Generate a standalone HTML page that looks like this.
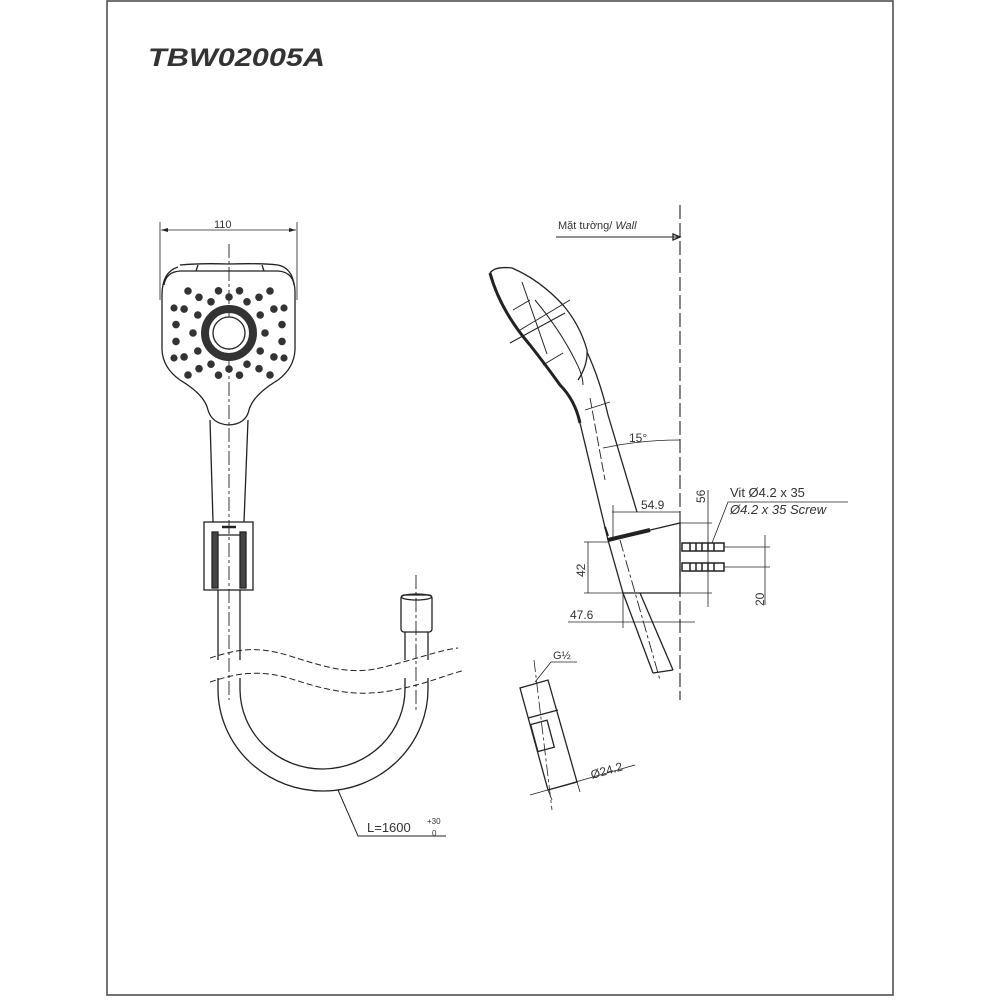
<!DOCTYPE html>
<html><head><meta charset="utf-8"><style>
html,body{margin:0;padding:0;background:#fff}
svg{display:block}
text{font-family:"Liberation Sans","DejaVu Sans",sans-serif;fill:#333}
</style></head><body>
<svg width="1000" height="1000" viewBox="0 0 1000 1000" xmlns="http://www.w3.org/2000/svg">
<g fill="none" stroke="#222" stroke-width="1.2">
<rect x="107" y="1" width="786" height="994" stroke="#444" stroke-width="1.5"/>
</g>
<text x="148" y="66" font-size="25" font-weight="bold" font-style="italic" textLength="177" lengthAdjust="spacingAndGlyphs" fill="#222">TBW02005A</text>

<!-- FRONT VIEW -->
<g fill="none" stroke="#222" stroke-width="1.3">
<line x1="160" y1="222" x2="160" y2="300" stroke-width="0.8"/>
<line x1="297" y1="222" x2="297" y2="300" stroke-width="0.8"/>
<line x1="161" y1="230" x2="296" y2="230" stroke-width="0.8"/>
<path d="M161 230 l7 -2 v4z M296 230 l-7 -2 v4z" fill="#222" stroke="none"/>
<path d="M180 265 Q200 263 229 264 Q260 263 278 265 Q292 268 294 285"/>
<path d="M198 265 l-2 6 M262 265 l2 6"/>
<path d="M178 267 Q162 272 162 295 L162 350 Q163 368 180 380 Q205 395 208 410 Q212 424 229 425 Q246 424 249 410 Q253 395 278 380 Q294 368 295 350 L295 292 Q295 272 278 271 L180 271 Q166 272 164 285"/>
<path d="M210 420 L213 522 M248 420 L244 522"/>
<rect x="204" y="522" width="49" height="68"/>
<rect x="212" y="532" width="6" height="56" fill="#444"/>
<rect x="240" y="532" width="6" height="56" fill="#444"/>
<line x1="218" y1="535" x2="240" y2="535"/>
<line x1="222" y1="527" x2="236" y2="527" stroke-width="2.5"/>
<path d="M218 590 L218 690 A105 102 0 0 0 428 688 L428 632"/>
<path d="M240 590 L240 690 A82.5 80 0 0 0 405 688 L405 632"/>
<rect x="401" y="595" width="31" height="37" rx="3"/>
<ellipse cx="416.5" cy="597" rx="15" ry="3"/>
<rect x="200" y="660" width="270" height="18" fill="#fff" stroke="none"/>
<path d="M210 658 C235 650 255 645 290 656 S350 675 380 668 S440 650 458 648" stroke-dasharray="6 3" stroke-width="1"/>
<path d="M210 682 C235 674 258 668 295 680 S360 697 395 690 S445 675 462 671" stroke-dasharray="6 3" stroke-width="1"/>
<path d="M229 244 L229 700" stroke-dasharray="14 3 3 3" stroke-width="0.9"/>
<path d="M416 575 L416 710" stroke-dasharray="14 3 3 3" stroke-width="0.9"/>
<circle cx="229" cy="333" r="24" stroke-width="8" stroke="#333"/>
<circle cx="229" cy="333" r="16" fill="#fff"/>
<path d="M338 790 L358 836 L446 836" stroke-width="1"/>
</g>
<g fill="#333">
<circle cx="265" cy="333" r="3.8"/><circle cx="193" cy="333" r="3.8"/><circle cx="229" cy="369" r="3.8"/><circle cx="229" cy="297" r="3.8"/>
<circle cx="260.2" cy="351" r="3.8"/><circle cx="260.2" cy="315" r="3.8"/><circle cx="197.8" cy="351" r="3.8"/><circle cx="197.8" cy="315" r="3.8"/>
<circle cx="247" cy="364.2" r="3.8"/><circle cx="247" cy="301.8" r="3.8"/><circle cx="211" cy="364.2" r="3.8"/><circle cx="211" cy="301.8" r="3.8"/>
<circle cx="282" cy="341.4" r="3.8"/><circle cx="282" cy="324.6" r="3.8"/><circle cx="176" cy="341.4" r="3.8"/><circle cx="176" cy="324.6" r="3.8"/>
<circle cx="273.9" cy="356.9" r="3.8"/><circle cx="273.9" cy="309.1" r="3.8"/><circle cx="184.1" cy="356.9" r="3.8"/><circle cx="184.1" cy="309.1" r="3.8"/>
<circle cx="259" cy="368.7" r="3.8"/><circle cx="259" cy="297.3" r="3.8"/><circle cx="199" cy="368.7" r="3.8"/><circle cx="199" cy="297.3" r="3.8"/>
<circle cx="239.5" cy="375.2" r="3.8"/><circle cx="239.5" cy="290.8" r="3.8"/><circle cx="218.5" cy="375.2" r="3.8"/><circle cx="218.5" cy="290.8" r="3.8"/>
<circle cx="270" cy="291" r="3.8"/><circle cx="188" cy="291" r="3.8"/><circle cx="270" cy="375" r="3.8"/><circle cx="188" cy="375" r="3.8"/>
<circle cx="284" cy="308" r="3.6"/><circle cx="174" cy="308" r="3.6"/><circle cx="284" cy="358" r="3.6"/><circle cx="174" cy="358" r="3.6"/>
</g>
<text x="367" y="832" font-size="13">L=1600</text>
<text x="427" y="824" font-size="8">+30</text>
<text x="432" y="836" font-size="8">0</text>
<text x="214" y="228" font-size="11">110</text>

<!-- SIDE VIEW -->
<g fill="none" stroke="#222" stroke-width="1.3">
<path d="M680 205 L680 700" stroke-dasharray="14 4" stroke-width="1.1"/>
<line x1="556" y1="237" x2="680" y2="237" stroke-width="0.9"/>
<path d="M680 237 l-7 -3 v6z"/>
<path d="M490 273 Q495 266 512 268 Q540 280 563 305 Q580 325 587 350 Q588 365 578 380"/>
<path d="M490 273 Q500 310 530 345 Q548 368 560 385 Q575 400 580 423" stroke-width="3"/>
<path d="M522 282 L547 354 M535 300 Q560 330 575 360 Q583 375 583 385" stroke-width="1"/>
<path d="M513 310 l17 -10 M520 330 L570 300 M510 343 l55 -30 M543 365 l20 -12" stroke-width="1"/>
<path d="M587 352 Q600 380 608 415 L637 512"/>
<path d="M580 423 L608 540"/>
<path d="M590 398 L605 480" stroke-dasharray="10 3" stroke-width="0.9"/>
<path d="M585 410 l25 -8" stroke-width="0.9"/>
<path d="M608 540 L680 523 L680 593 L623 593 Z"/>
<path d="M608 540 L650 530" stroke-width="4"/>
<path d="M605 527 L608 536" stroke-width="2"/>
<path d="M623 593 L653 673 M640 593 L673 670 M653 673 L673 670"/>
<path d="M620 540 L660 680" stroke-dasharray="12 3 3 3" stroke-width="0.9"/>
<g stroke-width="1.5">
<rect x="682" y="543" width="42" height="8" fill="#fff"/>
<rect x="682" y="563" width="42" height="8" fill="#fff"/>
<path d="M690 543v8M696 543v8M702 543v8M708 543v8M714 543v8M690 563v8M696 563v8M702 563v8M708 563v8M714 563v8"/>
</g>
<line x1="724" y1="547" x2="770" y2="547" stroke-width="0.8"/>
<line x1="724" y1="567" x2="770" y2="567" stroke-width="0.8"/>
<line x1="765" y1="535" x2="765" y2="605" stroke-width="0.8"/>
<line x1="680" y1="523" x2="712" y2="523" stroke-width="0.8"/>
<line x1="680" y1="593" x2="712" y2="593" stroke-width="0.8"/>
<line x1="708" y1="490" x2="708" y2="607" stroke-width="0.8"/>
<line x1="612" y1="512" x2="680" y2="512" stroke-width="0.8"/>
<line x1="613" y1="505" x2="613" y2="540" stroke-width="0.8"/>
<line x1="584" y1="542" x2="608" y2="542" stroke-width="0.8"/>
<line x1="584" y1="593" x2="623" y2="593" stroke-width="0.8"/>
<line x1="588" y1="542" x2="588" y2="593" stroke-width="0.8"/>
<line x1="568" y1="622" x2="695" y2="622" stroke-width="0.8"/>
<line x1="623" y1="593" x2="623" y2="628" stroke-width="0.8"/>
<path d="M603 448 Q640 440 680 440" stroke-width="0.8"/>
<path d="M712 543 L728 502 L848 502" stroke-width="0.8"/>
<path d="M520 688 L548 680 L577 782 L548 790 Z"/>
<path d="M528 718 L558 710"/>
<rect x="534" y="722" width="17" height="28" transform="rotate(-15 542 736)"/>
<path d="M534 660 L552 810" stroke-dasharray="12 3 3 3" stroke-width="0.8"/>
<path d="M535 682 L551 662 L577 662" stroke-width="0.8"/>
<path d="M530 795 L635 765" stroke-width="0.8"/>
<path d="M548 790 L552 800 M577 782 L580 792" stroke-width="0.8"/>
</g>
<g font-size="12">
<text x="558" y="229" font-size="11">Mặt tường/ <tspan font-style="italic">Wall</tspan></text>
<text x="629" y="442">15°</text>
<text x="641" y="509">54.9</text>
<text x="570" y="619">47.6</text>
<text x="730" y="497" font-size="13">Vit Ø4.2 x 35</text>
<text x="730" y="514" font-size="13" font-style="italic">Ø4.2 x 35 Screw</text>
<text transform="translate(705 503) rotate(-90)">56</text>
<text transform="translate(585 577) rotate(-90)">42</text>
<text transform="translate(764 606) rotate(-90)">20</text>
<text x="553" y="659" font-size="11">G½</text>
<text transform="translate(592 779) rotate(-16)">Ø24.2</text>
</g>
</svg>
</body></html>
